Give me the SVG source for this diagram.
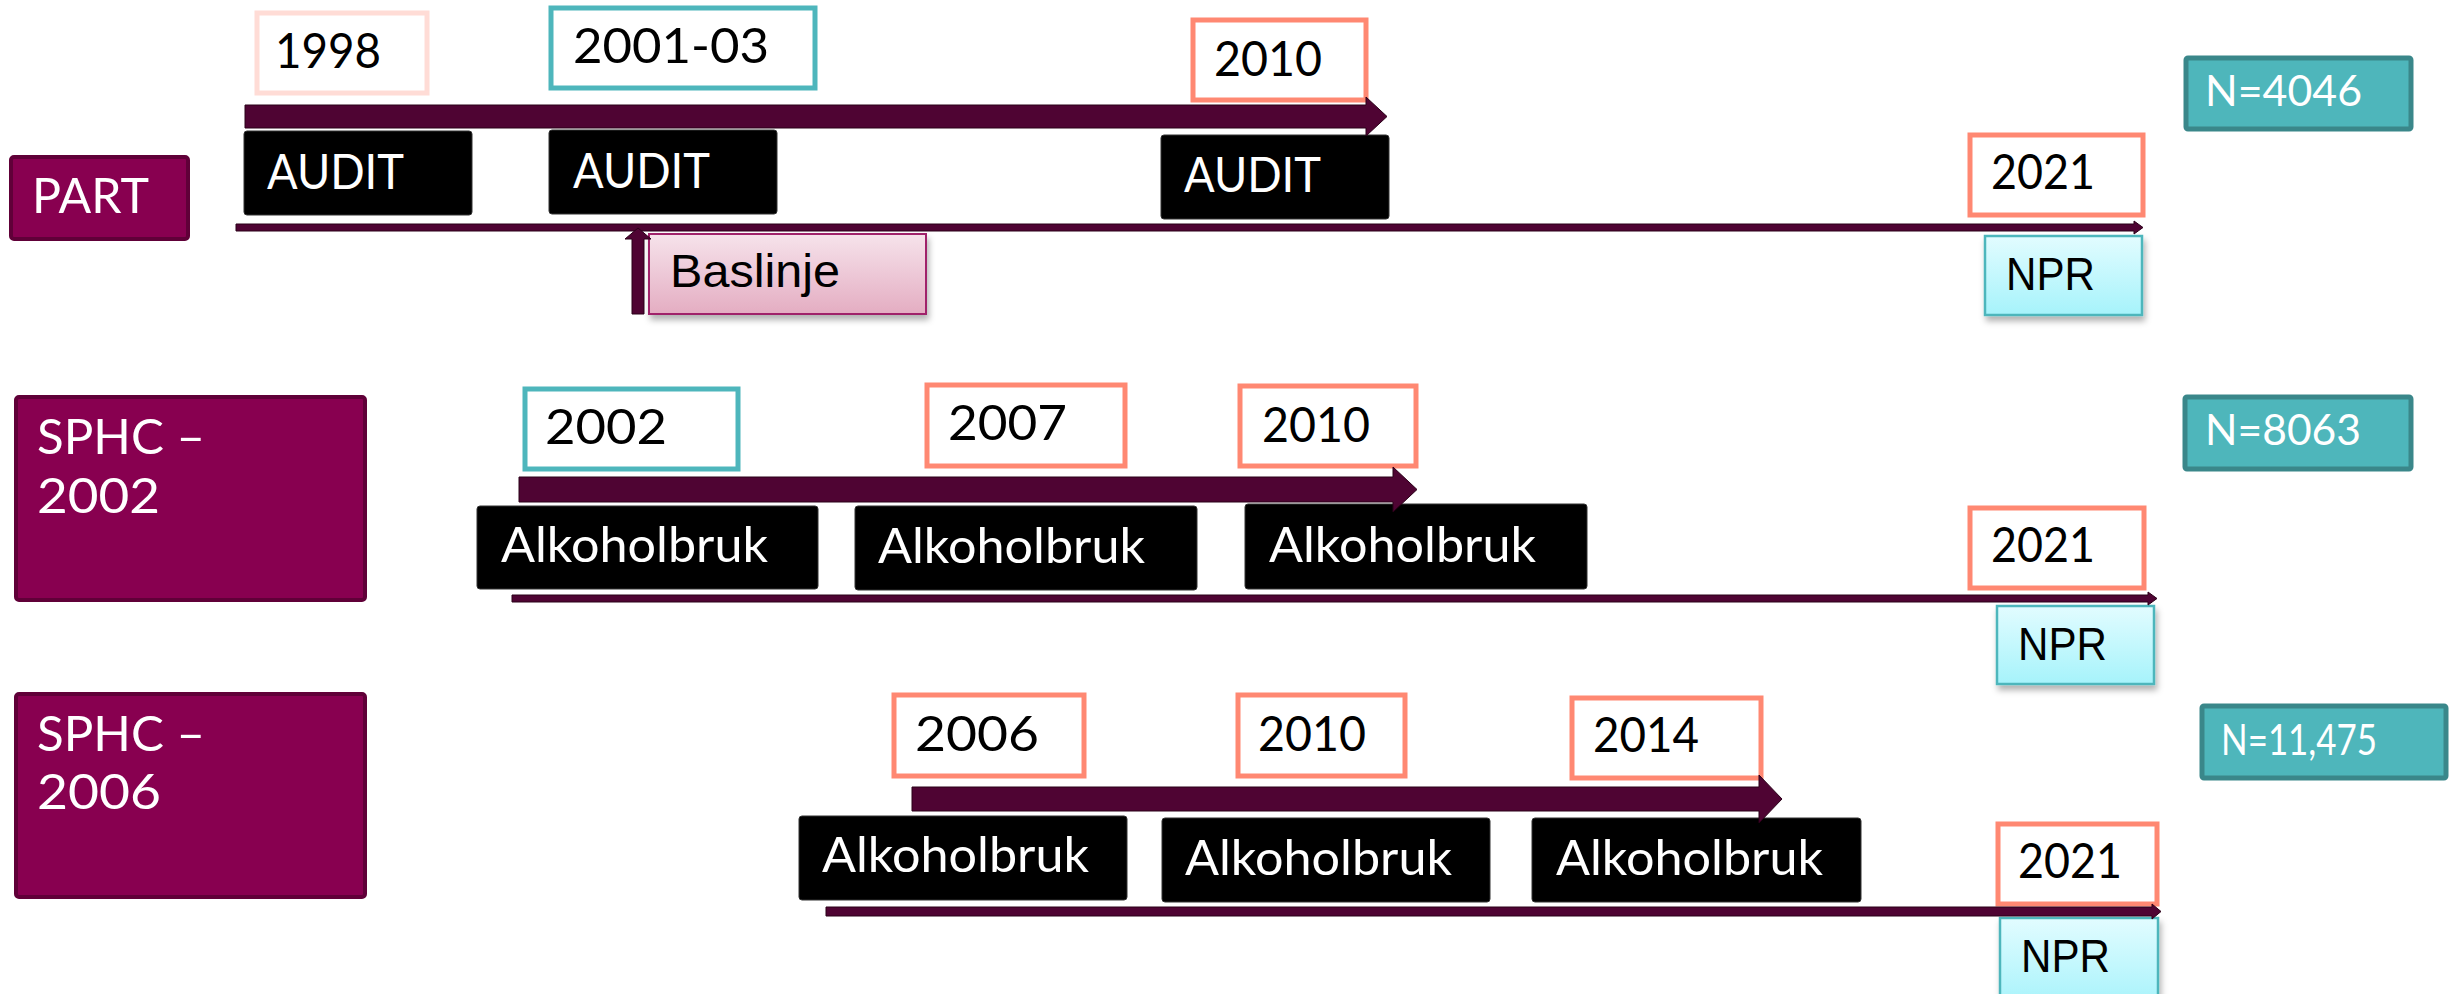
<svg xmlns="http://www.w3.org/2000/svg" width="2460" height="994" viewBox="0 0 2460 994">
<defs>
<style>
.grp{fill:#880050;stroke:#600038;stroke-width:4}
.yr{fill:#fff;stroke-width:5}
.sal{stroke:#ff8872}
.teal{stroke:#4eb6bc}
.pink{stroke:#ffdcd6}
.blk{fill:#000;stroke:#333;stroke-width:1}
.nbox{fill:#4eb6bb;stroke:#3a878a;stroke-width:5}
.npr{fill:url(#gNpr);stroke:#4eb6bc;stroke-width:2.5;filter:url(#sh)}
.t{font-family:Lato,"Open Sans","Liberation Sans",sans-serif;font-size:48px}
.w{fill:#fff}
.k{fill:#000}
.a{font-family:"Liberation Sans",Arial,sans-serif;font-size:46px;fill:#000}
.n{font-family:Lato,"Open Sans","Liberation Sans",sans-serif;font-size:42px;fill:#fff}
.arr{fill:#4f0433;stroke:#2a0018;stroke-width:1}
</style>
<linearGradient id="gNpr" x1="0" y1="0" x2="0" y2="1"><stop offset="0" stop-color="#e2fcff"/><stop offset="1" stop-color="#a6f3fb"/></linearGradient>
<linearGradient id="gBas" x1="0" y1="0" x2="0" y2="1"><stop offset="0" stop-color="#f6e3eb"/><stop offset="1" stop-color="#e4adc2"/></linearGradient>
<filter id="sh" x="-10%" y="-10%" width="130%" height="140%"><feDropShadow dx="2" dy="5" stdDeviation="3" flood-color="#000" flood-opacity="0.3"/></filter>
</defs>
<rect width="2460" height="994" fill="#fff"/>

<!-- Row 1 -->
<g id="part"><rect class="grp" x="11" y="157" width="177" height="82" rx="3"/><text class="t w" x="32" y="213" textLength="117" lengthAdjust="spacingAndGlyphs">PART</text></g>
<g id="y1998"><rect class="yr pink" x="257" y="13" width="170" height="80"/><text class="t k" x="275" y="68" textLength="106" lengthAdjust="spacingAndGlyphs">1998</text></g>
<g id="y2001"><rect class="yr teal" x="551" y="8" width="264" height="80"/><text class="t k" x="573" y="63" textLength="196" lengthAdjust="spacingAndGlyphs">2001-03</text></g>
<g id="y2010a"><rect class="yr sal" x="1193" y="20" width="173" height="80"/><text class="t k" x="1214" y="76" textLength="108" lengthAdjust="spacingAndGlyphs">2010</text></g>
<g id="audit1"><rect class="blk" x="244" y="131" width="228" height="84" rx="3"/><text class="t w" x="267" y="189" textLength="137" lengthAdjust="spacingAndGlyphs">AUDIT</text></g>
<g id="audit2"><rect class="blk" x="549" y="130" width="228" height="84" rx="3"/><text class="t w" x="573" y="188" textLength="137" lengthAdjust="spacingAndGlyphs">AUDIT</text></g>
<g id="audit3"><rect class="blk" x="1161" y="135" width="228" height="84" rx="3"/><text class="t w" x="1184" y="192" textLength="137" lengthAdjust="spacingAndGlyphs">AUDIT</text></g>
<g id="baslinje"><rect x="649" y="234" width="277" height="80" fill="url(#gBas)" stroke="#a0206a" stroke-width="2" filter="url(#sh)"/><text class="a" x="670" y="287" textLength="170" lengthAdjust="spacingAndGlyphs">Baslinje</text></g>
<g id="y2021a"><rect class="yr sal" x="1970" y="135" width="173" height="80"/><text class="t k" x="1991" y="189" textLength="104" lengthAdjust="spacingAndGlyphs">2021</text></g>
<g id="npr1"><rect class="npr" x="1985" y="236" width="157" height="79"/><text class="a" x="2006" y="290" font-size="42" textLength="89" lengthAdjust="spacingAndGlyphs">NPR</text></g>
<g id="n4046"><rect class="nbox" x="2186" y="58" width="225" height="71" rx="2"/><text class="n" x="2205" y="106" textLength="157" lengthAdjust="spacingAndGlyphs">N=4046</text></g>

<!-- Row 2 -->
<g id="sphc2002"><rect class="grp" x="16" y="397" width="349" height="203" rx="3"/><text class="t w" x="37" y="454" textLength="168" lengthAdjust="spacingAndGlyphs">SPHC –</text><text class="t w" x="37" y="513" textLength="123" lengthAdjust="spacingAndGlyphs">2002</text></g>
<g id="y2002"><rect class="yr teal" x="525" y="389" width="213" height="80"/><text class="t k" x="545" y="444" textLength="122" lengthAdjust="spacingAndGlyphs">2002</text></g>
<g id="y2007"><rect class="yr sal" x="927" y="385" width="198" height="81"/><text class="t k" x="948" y="440" textLength="119" lengthAdjust="spacingAndGlyphs">2007</text></g>
<g id="y2010b"><rect class="yr sal" x="1240" y="386" width="176" height="80"/><text class="t k" x="1262" y="442" textLength="108" lengthAdjust="spacingAndGlyphs">2010</text></g>
<g id="alk1"><rect class="blk" x="477" y="506" width="341" height="83" rx="3"/><text class="t w" x="501" y="562" textLength="267" lengthAdjust="spacingAndGlyphs">Alkoholbruk</text></g>
<g id="alk2"><rect class="blk" x="855" y="506" width="342" height="84" rx="3"/><text class="t w" x="878" y="563" textLength="267" lengthAdjust="spacingAndGlyphs">Alkoholbruk</text></g>
<g id="alk3"><rect class="blk" x="1245" y="504" width="342" height="85" rx="3"/><text class="t w" x="1269" y="562" textLength="267" lengthAdjust="spacingAndGlyphs">Alkoholbruk</text></g>
<g id="y2021b"><rect class="yr sal" x="1970" y="508" width="174" height="80"/><text class="t k" x="1991" y="562" textLength="104" lengthAdjust="spacingAndGlyphs">2021</text></g>
<g id="npr2"><rect class="npr" x="1997" y="606" width="157" height="78"/><text class="a" x="2018" y="660" font-size="42" textLength="89" lengthAdjust="spacingAndGlyphs">NPR</text></g>
<g id="n8063"><rect class="nbox" x="2185" y="397" width="226" height="72" rx="2"/><text class="n" x="2205" y="445" textLength="156" lengthAdjust="spacingAndGlyphs">N=8063</text></g>

<!-- Row 3 -->
<g id="sphc2006"><rect class="grp" x="16" y="694" width="349" height="203" rx="3"/><text class="t w" x="37" y="751" textLength="168" lengthAdjust="spacingAndGlyphs">SPHC –</text><text class="t w" x="37" y="809" textLength="124" lengthAdjust="spacingAndGlyphs">2006</text></g>
<g id="y2006"><rect class="yr sal" x="894" y="695" width="190" height="81"/><text class="t k" x="915" y="751" textLength="124" lengthAdjust="spacingAndGlyphs">2006</text></g>
<g id="y2010c"><rect class="yr sal" x="1238" y="695" width="167" height="81"/><text class="t k" x="1258" y="751" textLength="108" lengthAdjust="spacingAndGlyphs">2010</text></g>
<g id="y2014"><rect class="yr sal" x="1572" y="698" width="189" height="80"/><text class="t k" x="1593" y="752" textLength="106" lengthAdjust="spacingAndGlyphs">2014</text></g>
<g id="alk4"><rect class="blk" x="799" y="816" width="328" height="84" rx="3"/><text class="t w" x="822" y="872" textLength="267" lengthAdjust="spacingAndGlyphs">Alkoholbruk</text></g>
<g id="alk5"><rect class="blk" x="1162" y="818" width="328" height="84" rx="3"/><text class="t w" x="1185" y="875" textLength="267" lengthAdjust="spacingAndGlyphs">Alkoholbruk</text></g>
<g id="alk6"><rect class="blk" x="1532" y="818" width="329" height="84" rx="3"/><text class="t w" x="1556" y="875" textLength="267" lengthAdjust="spacingAndGlyphs">Alkoholbruk</text></g>
<g id="y2021c"><rect class="yr sal" x="1998" y="824" width="159" height="80"/><text class="t k" x="2018" y="878" textLength="104" lengthAdjust="spacingAndGlyphs">2021</text></g>
<g id="npr3"><rect class="npr" x="2000" y="918" width="158" height="90"/><text class="a" x="2021" y="972" font-size="42" textLength="89" lengthAdjust="spacingAndGlyphs">NPR</text></g>
<g id="n11475"><rect class="nbox" x="2202" y="706" width="244" height="72" rx="2"/><text class="n" x="2221" y="755" textLength="156" lengthAdjust="spacingAndGlyphs">N=11,475</text></g>

<g id="connectors">
<path class="arr" d="M245,105 H1366 V97 L1387,116.5 L1366,136 V128 H245 Z"/>
<path class="arr" d="M236,224 H2134 V221 L2143,227.5 L2134,234 V231 H236 Z"/>
<path class="arr" d="M632,314 V239 H625 L638,228 L651,239 H644 V314 Z"/>
<path class="arr" d="M519,477 H1393 V467 L1417,489.5 L1393,512 V502 H519 Z"/>
<path class="arr" d="M512,595 H2148 V592 L2157,598.5 L2148,605 V602 H512 Z"/>
<path class="arr" d="M912,787 H1759 V775 L1782,799 L1759,823 V811 H912 Z"/>
<path class="arr" d="M826,907 H2152 V904 L2161,911.5 L2152,919 V916 H826 Z"/>
</g>
</svg>
